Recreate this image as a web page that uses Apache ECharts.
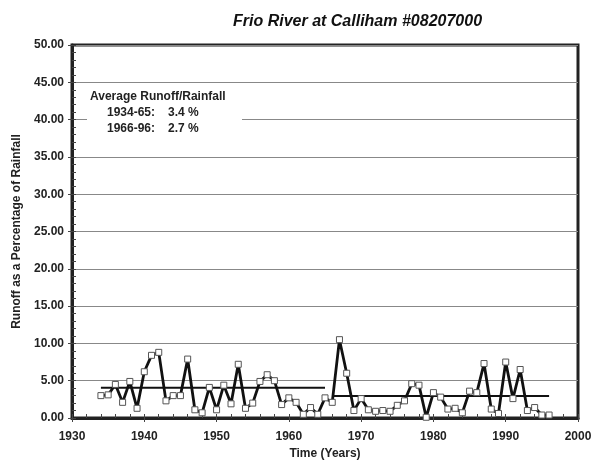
<!DOCTYPE html>
<html><head><meta charset="utf-8">
<script src="https://cdn.jsdelivr.net/npm/echarts@6/dist/echarts.min.js"></script>
<style>html,body{margin:0;padding:0;background:#fff}#c{width:602px;height:465px}</style>
</head><body><div id="c"></div>
<script>
const years = [1934,1935,1936,1937,1938,1939,1940,1941,1942,1943,1944,1945,1946,1947,1948,1949,
1950,1951,1952,1953,1954,1955,1956,1957,1958,1959,1960,1961,1962,1963,1964,1965,1966,1967,1968,1969,
1970,1971,1972,1973,1974,1975,1976,1977,1978,1979,1980,1981,1982,1983,1984,1985,1986,1987,1988,1989,
1990,1991,1992,1993,1994,1995,1996];
const runoffPct = [3.0,3.1,4.5,2.1,4.9,1.3,6.2,8.4,8.8,2.3,3.0,3.0,7.9,1.1,0.7,4.1,
1.1,4.4,1.9,7.2,1.3,2.0,4.9,5.8,5.0,1.8,2.7,2.1,0.5,1.4,0.5,2.7,2.1,10.5,6.0,1.0,
2.6,1.1,0.9,1.0,0.9,1.7,2.3,4.6,4.4,0.1,3.4,2.8,1.2,1.3,0.7,3.6,3.4,7.3,1.2,0.6,
7.5,2.6,6.5,1.0,1.4,0.4,0.4];
const avgPeriods = [[1934,1965],[1966,1996]];
const avgLevels = [4.05, 2.95];
const legendTitle = 'Average Runoff/Rainfall';
const legendRows = [['1934-65:','3.4 %'],['1966-96:','2.7 %']];
const titleText = 'Frio River at Calliham #08207000';
const xName = 'Time (Years)';
const yName = 'Runoff as a Percentage of Rainfall';

const FONT = '"Liberation Sans", Arial, sans-serif';
const chart = echarts.init(document.getElementById('c'), null, {renderer:'canvas'});

const series = [{
  type:'line', xAxisIndex:0, yAxisIndex:0,
  data: years.map((y,i)=>[y, runoffPct[i]]),
  symbol:'rect', symbolSize:6,
  itemStyle:{color:'#fff', borderColor:'#555', borderWidth:1},
  lineStyle:{color:'#111', width:2.8},
  z:5, animation:false
}];
avgPeriods.forEach((p,i)=>{
  series.push({
    type:'line', xAxisIndex:0, yAxisIndex:0,
    data:[[p[0],avgLevels[i]],[p[1],avgLevels[i]]],
    symbol:'none', lineStyle:{color:'#111', width:2}, z:4, animation:false
  });
});

const labelStyle = {fontFamily:FONT, fontWeight:'bold', fontSize:12, color:'#222'};
const graphicChildren = [
  {type:'rect', shape:{x:87, y:86, width:155, height:52}, style:{fill:'#fff'}, z:10},
  {type:'text', left:90, top:91, style:{text:legendTitle, font:'bold 12px '+FONT, fill:'#222'}, z:11}
];
legendRows.forEach((r,i)=>{
  graphicChildren.push({type:'text', left:107, top:107+i*16, style:{text:r[0], font:'bold 12px '+FONT, fill:'#222'}, z:11});
  graphicChildren.push({type:'text', left:168, top:107+i*16, style:{text:r[1], font:'bold 12px '+FONT, fill:'#222'}, z:11});
});

chart.setOption({
  animation:false,
  backgroundColor:'#fff',
  title:{text:titleText, left:228, top:9,
    textStyle:{fontFamily:FONT, fontSize:16, fontWeight:'bold', fontStyle:'italic', color:'#111'}},
  grid:{left:72, right:24, top:45, bottom:47, show:true, borderColor:'#222', borderWidth:3, backgroundColor:'transparent'},
  xAxis:[{
    type:'value', min:1930, max:2000, interval:10, position:'bottom',
    name:xName, nameLocation:'middle', nameGap:29,
    nameTextStyle:{fontFamily:FONT, fontWeight:'bold', fontSize:12, color:'#222'},
    axisLine:{show:true, lineStyle:{color:'#222', width:3}},
    axisTick:{show:true, inside:false, length:4, lineStyle:{color:'#444', width:1}},
    axisLabel:Object.assign({margin:13, formatter:v=>String(v)}, labelStyle),
    splitLine:{show:false}
  },{
    type:'value', min:1930, max:2000, interval:10, position:'bottom',
    axisLine:{show:false}, axisLabel:{show:false}, splitLine:{show:false},
    axisTick:{show:true, inside:true, length:4, lineStyle:{color:'#444', width:1}},
    minorTick:{show:true, splitNumber:5, length:4, lineStyle:{color:'#444', width:1}}
  }],
  yAxis:[{
    type:'value', min:0, max:50, interval:5,
    name:yName, nameLocation:'middle', nameGap:49,
    nameTextStyle:{fontFamily:FONT, fontWeight:'bold', fontSize:12, color:'#222'},
    axisLine:{show:true, lineStyle:{color:'#222', width:3}},
    axisTick:{show:true, inside:false, length:4, lineStyle:{color:'#444', width:1}},
    axisLabel:Object.assign({margin:8, formatter:v=>v.toFixed(2)}, labelStyle),
    splitLine:{show:true, lineStyle:{color:'#888', width:1}}
  },{
    type:'value', min:0, max:50, interval:5, position:'left',
    axisLine:{show:false}, axisLabel:{show:false}, splitLine:{show:false},
    axisTick:{show:true, inside:true, length:4, lineStyle:{color:'#444', width:1}},
    minorTick:{show:true, splitNumber:5, length:4, lineStyle:{color:'#444', width:1}}
  }],
  graphic:graphicChildren,
  series:series
});
</script></body></html>
